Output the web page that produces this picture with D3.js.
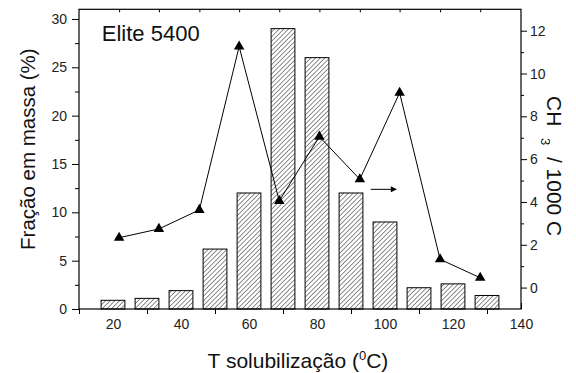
<!DOCTYPE html>
<html>
<head>
<meta charset="utf-8">
<style>
    body { margin: 0; background: #fff; }
    svg { display: block; font-family: "Liberation Sans", Arial, sans-serif; }
</style>
</head>
<body>
<svg width="576" height="373"></svg>
<script src="https://d3js.org/d3.v7.min.js"></script>
<script>
    // bars: mass fraction per solubilization temperature
    let barTemps = [20, 30, 40, 50, 60, 70, 80, 90, 100, 110, 120, 130]
    let barValues = [0.9, 1.1, 1.9, 6.2, 12, 29, 26, 12, 9, 2.2, 2.6, 1.4]

    // triangles: CH3 / 1000 C (right axis)
    let ch3Temps = [21.8, 33.5, 45.4, 57.1, 68.9, 80.7, 92.6, 104.3, 116.2, 128]
    let ch3Values = [2.33, 2.74, 3.63, 11.26, 4.05, 7.05, 5.06, 9.1, 1.32, 0.46]

    let xTicks = [20, 40, 60, 80, 100, 120, 140]
    let xMinor = [10, 30, 50, 70, 90, 110, 130]
    let leftTicks = [0, 5, 10, 15, 20, 25, 30]
    let leftMinor = [2.5, 7.5, 12.5, 17.5, 22.5, 27.5]
    let rightTicks = [0, 2, 4, 6, 8, 10, 12]
    let rightMinor = [1, 3, 5, 7, 9, 11]

    // little arrow pointing to the right axis
    let arrowX = [95.8, 103.3]
    let arrowY = 4.59

    let margin = { top: 9.3, right: 55, bottom: 64, left: 79 }
    let width = 576 - margin.left - margin.right
    let height = 373 - margin.top - margin.bottom

    let svg = d3.select("svg")

    let defs = svg.append("defs")
    let pat = defs.append("pattern")
        .attr("id", "hatch")
        .attr("patternUnits", "userSpaceOnUse")
        .attr("width", 3.3)
        .attr("height", 3.3)
        .attr("patternTransform", "rotate(45)")
    pat.append("rect").attr("width", 3.3).attr("height", 3.3).attr("fill", "#fff")
    pat.append("line")
        .attr("x1", 0).attr("y1", 0).attr("x2", 0).attr("y2", 3.3)
        .attr("stroke", "#000").attr("stroke-width", 0.9)

    let g = svg.append("g").attr("transform", `translate(${margin.left},${margin.top})`)

    let x = d3.scaleLinear().domain([10, 140]).range([0, width])
    let yL = d3.scaleLinear().domain([0, 31]).range([height, 0])
    let yR = d3.scaleLinear().domain([-1, 13]).range([height, 0])

    // bottom axis: major ticks inward (hidden behind bars), minor outward
    g.append("g")
        .attr("transform", `translate(0,${height})`)
        .call(d3.axisBottom(x).tickValues(xTicks).tickSize(-6).tickPadding(10).tickFormat(d3.format("d")))
        .call(a => a.select(".domain").remove())
        .call(a => a.selectAll("text").attr("font-size", 14).attr("font-family", "Liberation Sans, Arial").attr("fill", "#222"))
    g.append("g")
        .attr("transform", `translate(0,${height})`)
        .call(d3.axisBottom(x).tickValues(xMinor).tickSize(5).tickFormat(""))
        .call(a => a.select(".domain").remove())

    // bars
    let bw = x(27) - x(20)
    g.selectAll(".bar")
        .data(barTemps)
        .join("rect")
        .attr("class", "bar")
        .attr("x", (d) => x(d) - bw / 2)
        .attr("y", (d, i) => yL(barValues[i]))
        .attr("width", bw)
        .attr("height", (d, i) => yL(0) - yL(barValues[i]))
        .attr("fill", "url(#hatch)")
        .attr("stroke", "#000")
        .attr("stroke-width", 1)

    // frame
    g.append("rect")
        .attr("width", width).attr("height", height)
        .attr("fill", "none").attr("stroke", "#000").attr("stroke-width", 1.2)

    // left axis
    g.append("g")
        .call(d3.axisLeft(yL).tickValues(leftTicks).tickSize(7).tickPadding(5))
        .call(a => a.select(".domain").remove())
        .call(a => a.selectAll("text").attr("font-size", 14).attr("font-family", "Liberation Sans, Arial").attr("fill", "#222"))
    g.append("g")
        .call(d3.axisLeft(yL).tickValues(leftMinor).tickSize(4).tickFormat(""))
        .call(a => a.select(".domain").remove())

    // right axis
    g.append("g")
        .attr("transform", `translate(${width},0)`)
        .call(d3.axisRight(yR).tickValues(rightTicks).tickSize(6).tickPadding(3))
        .call(a => a.select(".domain").remove())
        .call(a => a.selectAll("text").attr("font-size", 14).attr("font-family", "Liberation Sans, Arial").attr("fill", "#222"))
    g.append("g")
        .attr("transform", `translate(${width},0)`)
        .call(d3.axisRight(yR).tickValues(rightMinor).tickSize(3).tickFormat(""))
        .call(a => a.select(".domain").remove())

    // top axis ticks at the triangle temperatures
    g.append("g")
        .call(d3.axisTop(x).tickValues(ch3Temps).tickSize(-3).tickFormat(""))
        .call(a => a.select(".domain").remove())

    // CH3 line + triangles
    let line = d3.line()
        .x((d) => x(d))
        .y((d, i) => yR(ch3Values[i]))
    g.append("path")
        .datum(ch3Temps)
        .attr("d", line)
        .attr("fill", "none")
        .attr("stroke", "#000")
        .attr("stroke-width", 1)

    g.selectAll(".tri")
        .data(ch3Temps)
        .join("path")
        .attr("class", "tri")
        .attr("d", d3.symbol().type(d3.symbolTriangle).size(48))
        .attr("transform", (d, i) => `translate(${x(d)},${yR(ch3Values[i])})`)
        .attr("fill", "#000")

    // arrow
    defs.append("marker")
        .attr("id", "arrowhead")
        .attr("viewBox", "0 0 10 10")
        .attr("refX", 9).attr("refY", 5)
        .attr("markerWidth", 8).attr("markerHeight", 6)
        .attr("markerUnits", "userSpaceOnUse")
        .attr("orient", "auto")
        .append("path")
        .attr("d", "M0,0 L10,5 L0,10 Z")
        .attr("fill", "#000")
    g.append("line")
        .attr("x1", x(arrowX[0])).attr("x2", x(arrowX[1]))
        .attr("y1", yR(arrowY)).attr("y2", yR(arrowY))
        .attr("stroke", "#000").attr("stroke-width", 1)
        .attr("marker-end", "url(#arrowhead)")

    // sample label
    g.append("text")
        .attr("x", x(16.7))
        .attr("y", yL(27.7))
        .attr("font-size", 22)
        .attr("fill", "#111")
        .text("Elite 5400")

    // axis titles
    svg.append("text")
        .attr("transform", `translate(35,${margin.top + height / 2 - 10}) rotate(-90)`)
        .attr("text-anchor", "middle")
        .attr("font-size", 20.5)
        .attr("fill", "#111")
        .text("Fração em massa (%)")

    let xt = svg.append("text")
        .attr("x", margin.left + width / 2 - 2)
        .attr("y", 368)
        .attr("text-anchor", "middle")
        .attr("font-size", 21)
        .attr("fill", "#111")
    xt.append("tspan").text("T solubilização (")
    xt.append("tspan").attr("font-size", 13).attr("dy", -8).text("0")
    xt.append("tspan").attr("dy", 8).text("C)")

    let rt = svg.append("text")
        .attr("transform", `translate(547,96) rotate(90)`)
        .attr("font-size", 21)
        .attr("fill", "#111")
        .attr("xml:space", "preserve")
    rt.append("tspan").text("CH  ")
    rt.append("tspan").attr("font-size", 13).attr("dy", 6).text("3")
    rt.append("tspan").attr("dy", -6).text("  / 1000 C")
</script>
</body>
</html>
